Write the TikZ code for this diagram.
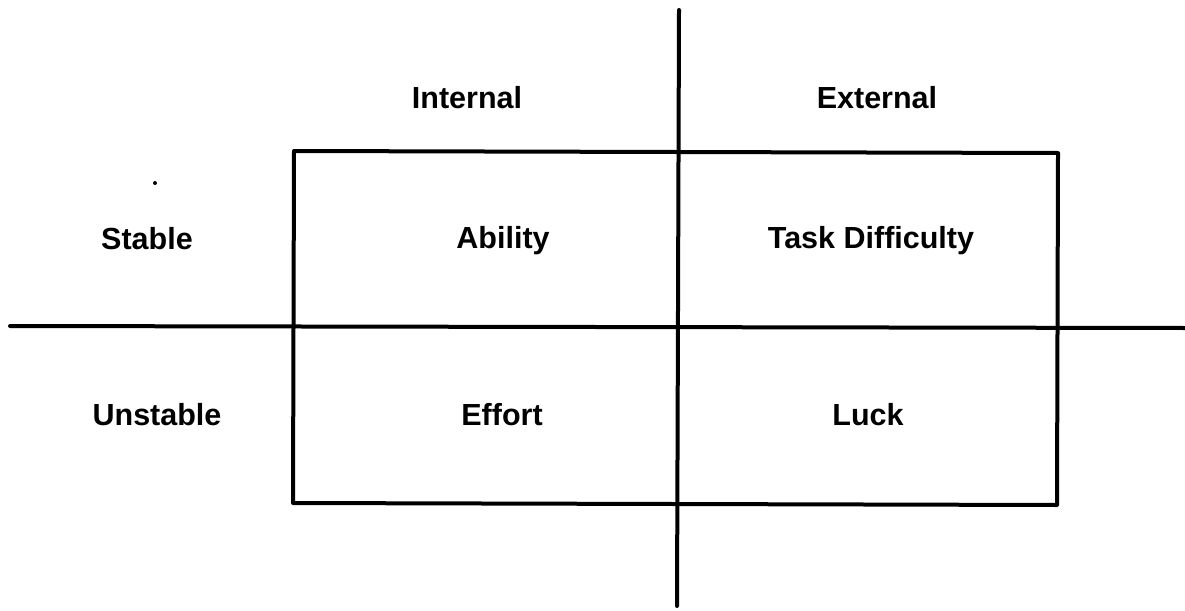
\documentclass[tikz,border=0pt]{standalone}
\usepackage{fontspec}
\setmainfont{Liberation Sans}
\begin{document}
\begin{tikzpicture}[x=1pt,y=-1pt,
  rule/.style={line width=4pt,line cap=round,line join=round},
  lbl/.style={font=\fontsize{30.5}{34}\selectfont\bfseries,inner sep=0pt}]
\useasboundingbox (0,0) rectangle (1185,610);
% axes
\coordinate (vtop) at (679,10);
\coordinate (vbot) at (677,606);
\coordinate (hl) at (10,326);
\coordinate (hr) at (1185,328);
\draw[rule] (vtop) -- (vbot);
\draw[rule] (hl) -- (hr);
% frame around the four cells
\draw[rule] (294,151) -- (1058,153) -- (1057,505) -- (293,503) -- cycle;
% column headings
\node[lbl] (internal) at (467,98) {Internal};
\node[lbl] (external) at (877,98) {External};
% row headings
\node[lbl] (stable) at (147,239) {Stable};
\node[lbl] (unstable) at (157,415) {Unstable};
% cells
\node[lbl] (ability) at (503,241) {Ability};
\node[lbl] (task) at (871,241) {Task Difficulty};
\node[lbl] (effort) at (502,415) {Effort};
\node[lbl] (luck) at (868,415) {Luck};
% small mark
\fill (155,183) circle (2);
\end{tikzpicture}
\end{document}
